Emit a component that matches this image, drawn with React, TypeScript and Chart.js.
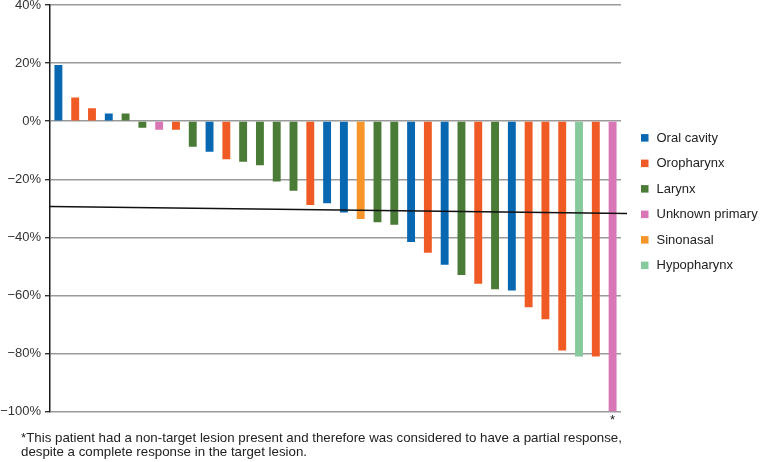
import React, { useEffect, useRef } from "react";
import { Chart, registerables } from "chart.js";

Chart.register(...registerables);

const sites = ["Oral cavity", "Oropharynx", "Larynx", "Unknown primary", "Sinonasal", "Hypopharynx"];
const siteColors = ["#0767B1", "#F05A24", "#4A7B37", "#D977B6", "#F7952A", "#86C99D"];

const patientSites = [
  "Oral cavity", "Oropharynx", "Oropharynx", "Oral cavity", "Larynx", "Larynx", "Unknown primary", "Oropharynx",
  "Larynx", "Oral cavity", "Oropharynx", "Larynx", "Larynx", "Larynx", "Larynx", "Oropharynx",
  "Oral cavity", "Oral cavity", "Sinonasal", "Larynx", "Larynx", "Oral cavity", "Oropharynx", "Oral cavity",
  "Larynx", "Oropharynx", "Larynx", "Oral cavity", "Oropharynx", "Oropharynx", "Oropharynx", "Hypopharynx",
  "Oropharynx", "Unknown primary",
];
const changePct = [
  19.3, 8.1, 4.4, 2.6, 2.6, -2.3, -3.0, -3.0,
  -8.8, -10.5, -13.1, -14.0, -15.2, -20.8, -24.0, -28.9,
  -28.3, -31.5, -33.7, -34.8, -35.7, -41.6, -45.3, -49.5,
  -53.0, -56.0, -57.9, -58.3, -64.1, -68.2, -79.0, -81.1,
  -81.1, -100,
];
const yTicks = [40, 20, 0, -20, -40, -60, -80, -100];
const thresholdStart = -29.4;
const thresholdEnd = -31.8;
const starredPatient = 33;
const footnote = [
  "*This patient had a non-target lesion present and therefore was considered to have a partial response,",
  "despite a complete response in the target lesion.",
];

const FONT = '"Liberation Sans", Arial, Helvetica, sans-serif';

const extrasPlugin = {
  id: "extras",
  afterDatasetsDraw(chart: any) {
    const { ctx, chartArea, scales } = chart;
    const y = scales.y;
    const x = scales.x;
    ctx.save();
    // threshold line
    ctx.strokeStyle = "#111";
    ctx.lineWidth = 1.3;
    ctx.beginPath();
    ctx.moveTo(chartArea.left, y.getPixelForValue(thresholdStart));
    ctx.lineTo(chartArea.right + 6, y.getPixelForValue(thresholdEnd));
    ctx.stroke();
    // asterisk
    ctx.fillStyle = "#222";
    ctx.font = `13px ${FONT}`;
    ctx.textAlign = "center";
    ctx.textBaseline = "middle";
    ctx.fillText("*", x.getPixelForValue(starredPatient), chartArea.bottom + 9);
    // legend
    const ds = chart.data.datasets;
    const step = 25.5;
    const cy = (chartArea.top + chartArea.bottom) / 2 - 6.6 - step * (ds.length - 1) / 2;
    const bx = chartArea.right + 20;
    ctx.textAlign = "left";
    ds.forEach((d: any, i: number) => {
      const yy = cy + i * step;
      ctx.fillStyle = d.backgroundColor;
      ctx.fillRect(bx, yy - 3.8, 7.5, 7.5);
      ctx.fillStyle = "#222";
      ctx.fillText(d.label, bx + 15.5, yy + 0.5);
    });
    ctx.restore();
  },
};

export default function App() {
  const ref = useRef<HTMLCanvasElement | null>(null);

  useEffect(() => {
    if (!ref.current) return;
    const datasets = sites.map((s, k) => ({
      label: s,
      data: changePct.map((v, i) => (patientSites[i] === s ? v : null)),
      backgroundColor: siteColors[k],
      borderWidth: 0,
      categoryPercentage: 1,
      barPercentage: 0.47,
    }));
    const chart = new Chart(ref.current, {
      type: "bar",
      data: { labels: changePct.map((_, i) => String(i + 1)), datasets },
      options: {
        animation: false,
        responsive: false,
        devicePixelRatio: 1,
        layout: { padding: { left: 0, top: 5, right: 139, bottom: 50.5 } },
        plugins: { legend: { display: false }, tooltip: { enabled: false } },
        scales: {
          x: { stacked: true, display: false },
          y: {
            stacked: true,
            min: -100,
            max: 40,
            afterBuildTicks: (s: any) => {
              s.ticks = yTicks.map((v) => ({ value: v }));
            },
            afterFit: (s: any) => {
              s.width = 50;
              s.paddingTop = 0;
              s.paddingBottom = 0;
            },
            ticks: {
              callback: (v: any) => (Number(v) < 0 ? "\u2212" + Math.abs(Number(v)) : String(v)) + "%",
              color: "#333",
              font: { family: FONT, size: 13 },
              padding: 4,
            },
            grid: { color: "#9a9a9a", lineWidth: 1.4, tickLength: 5, tickColor: "#333" },
            border: { color: "#1a1a1a", width: 1.5 },
          },
        },
      },
      plugins: [extrasPlugin],
    });
    return () => chart.destroy();
  }, []);

  return (
    <div style={{ position: "fixed", left: 0, top: 0, width: 760, height: 462, background: "#fff" }}>
      <canvas ref={ref} width={760} height={462} style={{ width: 760, height: 462, display: "block" }} />
      <div
        style={{
          position: "absolute",
          left: 21,
          top: 431,
          fontFamily: FONT,
          fontSize: 13.3,
          lineHeight: "14px",
          color: "#222",
          whiteSpace: "nowrap",
        }}
      >
        {footnote.map((t, i) => (
          <div key={i}>{t}</div>
        ))}
      </div>
    </div>
  );
}
